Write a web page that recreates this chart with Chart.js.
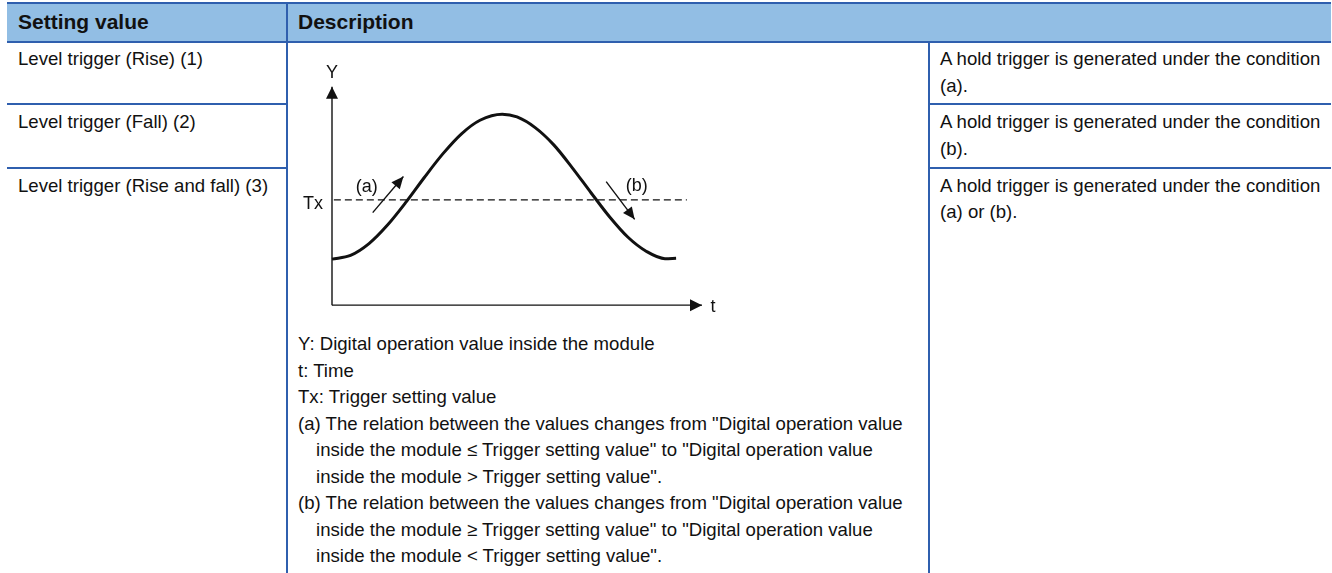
<!DOCTYPE html>
<html><head><meta charset="utf-8">
<script src="https://cdn.jsdelivr.net/npm/chart.js@4"></script>
<style>
html,body{margin:0;padding:0;background:#fff;width:1332px;height:573px;overflow:hidden;font-family:"Liberation Sans",Arial,sans-serif;color:#111;}
.hline{position:absolute;height:2px;background:#2f5fae;}
.vline{position:absolute;width:2px;background:#2f5fae;}
.t{position:absolute;white-space:nowrap;font-size:18.6px;line-height:26px;}
.h{position:absolute;white-space:nowrap;font-size:21px;font-weight:bold;line-height:26px;}
.lbl{position:absolute;white-space:nowrap;font-size:18px;line-height:20px;transform:translate(-50%,-50%);}
#wrap{position:absolute;left:295px;top:65px;width:444px;height:262px;}
</style></head>
<body>
<div style="position:absolute;left:7px;top:4px;width:1324px;height:37px;background:#92bee4"></div>
<div class="hline" style="left:7px;top:2px;width:1324px"></div>
<div class="hline" style="left:7px;top:41px;width:1324px"></div>
<div class="vline" style="left:286px;top:2px;height:571px"></div>
<div class="vline" style="left:928px;top:41px;height:532px"></div>
<div class="hline" style="left:7px;top:103px;width:280px"></div>
<div class="hline" style="left:7px;top:167px;width:280px"></div>
<div class="hline" style="left:929px;top:103px;width:402px"></div>
<div class="hline" style="left:929px;top:167px;width:402px"></div>
<div id="texts"></div>
<div id="wrap"><canvas id="c"></canvas></div>
<script>
// ---- table text ----
const headers = ["Setting value", "Description"];
const settingValues = ["Level trigger (Rise) (1)", "Level trigger (Fall) (2)", "Level trigger (Rise and fall) (3)"];
const resultLines = [
  ["A hold trigger is generated under the condition", "(a)."],
  ["A hold trigger is generated under the condition", "(b)."],
  ["A hold trigger is generated under the condition", "(a) or (b)."]
];
const legendLines = [
  "Y: Digital operation value inside the module",
  "t: Time",
  "Tx: Trigger setting value",
  "(a) The relation between the values changes from \"Digital operation value",
  "inside the module \u2264 Trigger setting value\" to \"Digital operation value",
  "inside the module > Trigger setting value\".",
  "(b) The relation between the values changes from \"Digital operation value",
  "inside the module \u2265 Trigger setting value\" to \"Digital operation value",
  "inside the module < Trigger setting value\"."
];
const legendIndent = [false,false,false,false,true,true,false,true,true];
const axisLabels = {y: "Y", t: "t", tx: "Tx", a: "(a)", b: "(b)"};

// ---- chart data ----
const timePoints   = [0, 5, 10, 15, 20, 25, 30, 35, 40, 46, 50, 55, 60, 65, 70, 75, 80, 85, 90, 93];
const digitalValue = [21.1, 22.8, 28.2, 36.7, 47.2, 58.6, 69.4, 78.5, 84.7, 87.5, 86.2, 81.2, 73.3, 62.8, 51.5, 40.5, 31.1, 24.6, 21.3, 21.5];
const triggerLevel = 48.2;
const triggerSpan  = [0.5, 95.9];
const axisEnd      = [100, 100];
const arrowAFrom = [11.0, 42.4], arrowATo = [19.3, 58.9];
const arrowBFrom = [74.1, 56.6], arrowBTo = [81.8, 39.3];

const T = document.getElementById('texts');
function add(cls, txt, left, top) {
  const d = document.createElement('div');
  d.className = cls; d.textContent = txt;
  d.style.left = left + 'px'; d.style.top = top + 'px';
  T.appendChild(d); return d;
}
add('h', headers[0], 18, 9);
add('h', headers[1], 298, 9);
settingValues.forEach((s, i) => add('t', s, 18, 46 + i * 63.3));
resultLines.forEach((ls, i) => ls.forEach((s, j) => add('t', s, 940, 46 + i * 63.3 + j * 26.5)));
legendLines.forEach((s, i) => add('t', s, legendIndent[i] ? 316 : 298, 331 + i * 26.5));

const arrowPlugin = {
  id: 'arrows',
  afterDatasetsDraw(chart) {
    const ctx = chart.ctx;
    chart.data.datasets.forEach((ds, i) => {
      if (!ds.arrow) return;
      const pts = chart.getDatasetMeta(i).data;
      const p1 = pts[pts.length - 2], p2 = pts[pts.length - 1];
      const ang = Math.atan2(p2.y - p1.y, p2.x - p1.x);
      ctx.save();
      ctx.translate(p2.x, p2.y); ctx.rotate(ang);
      ctx.beginPath(); ctx.moveTo(0, 0);
      ctx.lineTo(-ds.arrow[0], ds.arrow[1]); ctx.lineTo(-ds.arrow[0], -ds.arrow[1]);
      ctx.closePath(); ctx.fillStyle = ds.borderColor; ctx.fill();
      ctx.restore();
    });
  }
};

const labelPlugin = {
  id: 'labels',
  afterRender(chart) {
    if (chart._labelsDone) return; chart._labelsDone = true;
    const xs = chart.scales.x, ys = chart.scales.y;
    const wrap = document.getElementById('wrap');
    const put = (txt, px, py) => {
      const d = document.createElement('div'); d.className = 'lbl'; d.textContent = txt;
      d.style.left = px + 'px'; d.style.top = py + 'px'; wrap.appendChild(d);
    };
    put(axisLabels.y, xs.getPixelForValue(0), ys.getPixelForValue(axisEnd[1]) - 15);
    put(axisLabels.t, xs.getPixelForValue(axisEnd[0]) + 11, ys.getPixelForValue(0) + 1);
    put(axisLabels.tx, xs.getPixelForValue(0) - 19, ys.getPixelForValue(triggerLevel) + 3);
    put(axisLabels.a, xs.getPixelForValue(arrowAFrom[0]) - 6, ys.getPixelForValue(triggerLevel) - 14);
    put(axisLabels.b, xs.getPixelForValue(arrowBTo[0]) + 2, ys.getPixelForValue(triggerLevel) - 15);
  }
};

const ink = '#111111';
new Chart(document.getElementById('c'), {
  type: 'scatter',
  data: {
    datasets: [
      { data: timePoints.map((t, i) => ({x: t, y: digitalValue[i]})), showLine: true, borderColor: ink, borderWidth: 3, pointRadius: 0, cubicInterpolationMode: 'monotone' },
      { data: [{x: triggerSpan[0], y: triggerLevel}, {x: triggerSpan[1], y: triggerLevel}], showLine: true, borderColor: ink, borderWidth: 1.3, borderDash: [7, 4], pointRadius: 0 },
      { data: [{x: 0, y: 0}, {x: 0, y: axisEnd[1]}], showLine: true, borderColor: ink, borderWidth: 1.4, pointRadius: 0, arrow: [12, 6] },
      { data: [{x: 0, y: 0}, {x: axisEnd[0], y: 0}], showLine: true, borderColor: ink, borderWidth: 1.4, pointRadius: 0, arrow: [12, 6] },
      { data: [{x: arrowAFrom[0], y: arrowAFrom[1]}, {x: arrowATo[0], y: arrowATo[1]}], showLine: true, borderColor: ink, borderWidth: 1.4, pointRadius: 0, arrow: [12, 5.5] },
      { data: [{x: arrowBFrom[0], y: arrowBFrom[1]}, {x: arrowBTo[0], y: arrowBTo[1]}], showLine: true, borderColor: ink, borderWidth: 1.4, pointRadius: 0, arrow: [12, 5.5] }
    ]
  },
  options: {
    responsive: true, maintainAspectRatio: false, animation: false, devicePixelRatio: 1,
    layout: {padding: 0},
    scales: {
      x: {type: 'linear', min: -10, max: 110, display: false},
      y: {type: 'linear', min: -10, max: 110, display: false}
    },
    plugins: {legend: {display: false}, tooltip: {enabled: false}},
    elements: {line: {clip: false}}
  },
  plugins: [arrowPlugin, labelPlugin]
});
</script>
</body></html>
